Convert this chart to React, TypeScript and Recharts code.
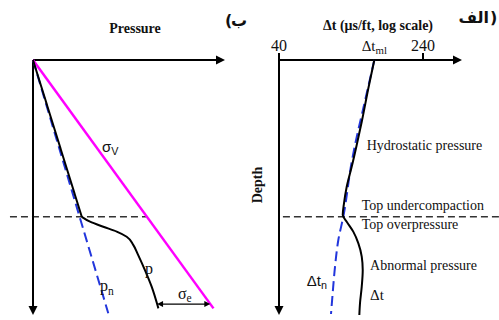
import { LineChart, Line, XAxis, YAxis, ReferenceLine, ReferenceDot } from "recharts";

type Pt = { depth: number; v: number };

const SERIF = "'Liberation Serif', 'Times New Roman', serif";
const SANS = "'Liberation Sans', Arial, sans-serif";
const ARABIC = "'DejaVu Sans', sans-serif";

// panel "ب": pressure vs depth (arbitrary linear units, 0-100)
const pressureDomain = [0, 100];
const depthDomain = [0, 100];
const sigmaV: Pt[] = [
  { depth: 0, v: 0 },
  { depth: 97.4, v: 94 },
];
const pNormal: Pt[] = [
  { depth: 0, v: 0 },
  { depth: 99.3, v: 39.2 },
];
const pHydro: Pt[] = [
  { depth: 0, v: 0 },
  { depth: 61.5, v: 25.4 },
];
const pOver: Pt[] = [
  { depth: 61.5, v: 25.4 },
  { depth: 63.4, v: 29.7 },
  { depth: 65.4, v: 36.6 },
  { depth: 67.3, v: 43.6 },
  { depth: 69.3, v: 48.8 },
  { depth: 72.5, v: 52.2 },
  { depth: 76.5, v: 54.8 },
  { depth: 82.4, v: 58.3 },
  { depth: 88.9, v: 61.8 },
  { depth: 97.4, v: 65.3 },
];
const topDepth = 61.5;
const sigmaEDepth = 95.7;

// panel "الف": transit time (µs/ft, log) vs depth
const dtDomain = [40, 390];
const dtTicks = [40, 240];
const dtMl = 131;
const dtObserved: Pt[] = [
  { depth: 0, v: 131 },
  { depth: 11.1, v: 121.6 },
  { depth: 24.2, v: 112 },
  { depth: 33.3, v: 105.2 },
  { depth: 41.8, v: 98.9 },
  { depth: 49.7, v: 92.9 },
  { depth: 56.2, v: 89.8 },
  { depth: 60.8, v: 88.4 },
  { depth: 63.4, v: 92.9 },
  { depth: 67.3, v: 100.8 },
  { depth: 71.9, v: 107.4 },
  { depth: 77.1, v: 112 },
  { depth: 82.4, v: 113.4 },
  { depth: 88.9, v: 112 },
  { depth: 95.4, v: 109.6 },
  { depth: 100, v: 108.7 },
];
const dtNormal: Pt[] = [
  { depth: 0, v: 131 },
  { depth: 18.9, v: 114.2 },
  { depth: 33.3, v: 103 },
  { depth: 39.9, v: 98.9 },
  { depth: 61.5, v: 89 },
  { depth: 70.6, v: 83.7 },
  { depth: 81.1, v: 80.3 },
  { depth: 91.5, v: 78 },
  { depth: 99.6, v: 76.4 },
];

function valueAt(series: Pt[], depth: number) {
  for (let i = 1; i < series.length; i++) {
    const a = series[i - 1];
    const b = series[i];
    if (depth <= b.depth) return a.v + ((b.v - a.v) * (depth - a.depth)) / (b.depth - a.depth);
  }
  return series[series.length - 1].v;
}

function Arrow(props: any) {
  const { x1, y1, x2, y2, width = 2, head = 9, half = 4.5, both = false } = props;
  const stroke = "#000";
  const a = Math.atan2(y2 - y1, x2 - x1);
  const c = Math.cos(a);
  const s = Math.sin(a);
  const tri = (x: number, y: number, dir: number) => {
    const bx = x - dir * head * c;
    const by = y - dir * head * s;
    return `${x},${y} ${bx - half * s},${by + half * c} ${bx + half * s},${by - half * c}`;
  };
  const inset = head * 0.6;
  return (
    <g>
      <line
        x1={both ? x1 + inset * c : x1}
        y1={both ? y1 + inset * s : y1}
        x2={x2 - inset * c}
        y2={y2 - inset * s}
        stroke={stroke}
        strokeWidth={width}
      />
      <polygon points={tri(x2, y2, 1)} fill={stroke} />
      {both && <polygon points={tri(x1, y1, -1)} fill={stroke} />}
    </g>
  );
}

function Tag(props: any) {
  const { viewBox, text, sub, size = 14, family = SERIF, anchor = "start" } = props;
  return (
    <text
      x={viewBox.x}
      y={viewBox.y}
      fontSize={size}
      fontFamily={family}
      textAnchor={anchor}
      dominantBaseline="central"
      fill="#111"
    >
      {text}
      {sub && (
        <tspan fontSize={size * 0.72} dy={size * 0.3}>
          {sub}
        </tspan>
      )}
    </text>
  );
}

function Note({ x, y, ...rest }: any) {
  return (
    <ReferenceDot x={x} y={y} r={0} fill="none" stroke="none" ifOverflow="visible" label={<Tag {...rest} />} />
  );
}

function PressurePanel() {
  const eLeft = valueAt(pOver, sigmaEDepth);
  const eRight = valueAt(sigmaV, sigmaEDepth);
  return (
    <LineChart width={250} height={320} layout="vertical" margin={{ top: 60, right: 25, bottom: 5, left: 33 }}>
      <XAxis type="number" domain={pressureDomain} hide />
      <YAxis type="number" dataKey="depth" domain={depthDomain} hide />
      <ReferenceLine
        ifOverflow="visible"
        segment={[{ x: -12, y: topDepth }, { x: valueAt(sigmaV, topDepth), y: topDepth }]}
        stroke="#333"
        strokeWidth={1.5}
        strokeDasharray="7 4"
      />
      <ReferenceLine
        ifOverflow="visible"
        segment={[{ x: 0, y: 0 }, { x: 100, y: 0 }]}
        stroke="#000"
        shape={(p: any) => <Arrow {...p} />}
      />
      <ReferenceLine
        ifOverflow="visible"
        segment={[{ x: 0, y: 0 }, { x: 0, y: 100 }]}
        stroke="#000"
        shape={(p: any) => <Arrow {...p} />}
      />
      <Line data={pNormal} dataKey="v" type="linear" stroke="#2236dc" strokeWidth={2} strokeDasharray="10 5" dot={false} activeDot={false} isAnimationActive={false} />
      <Line data={sigmaV} dataKey="v" type="linear" stroke="#ff00ff" strokeWidth={2.5} dot={false} activeDot={false} isAnimationActive={false} />
      <Line data={pHydro} dataKey="v" type="linear" stroke="#000" strokeWidth={2} dot={false} activeDot={false} isAnimationActive={false} />
      <Line data={pOver} dataKey="v" type="monotone" stroke="#000" strokeWidth={2} dot={false} activeDot={false} isAnimationActive={false} />
      <ReferenceLine
        ifOverflow="visible"
        segment={[{ x: eLeft, y: sigmaEDepth }, { x: eRight, y: sigmaEDepth }]}
        stroke="#000"
        shape={(p: any) => <Arrow {...p} width={1.2} head={6} half={3} both />}
      />
      <Note x={35.9} y={34.1} text="σ" sub="V" size={15} family={SANS} />
      <Note x={58.3} y={81.6} text="p" size={16} />
      <Note x={34.9} y={88.6} text="p" sub="n" size={16} />
      <Note x={75.5} y={91.4} text="σ" sub="e" size={16} />
    </LineChart>
  );
}

function SonicPanel() {
  return (
    <LineChart width={249} height={320} layout="vertical" margin={{ top: 30, right: 37, bottom: 5, left: 29 }}>
      <XAxis
        type="number"
        scale="log"
        domain={dtDomain}
        ticks={dtTicks}
        orientation="top"
        height={30}
        axisLine={false}
        stroke="#000"
        tickSize={7}
        tickMargin={2}
        tickLine={{ stroke: "#000", strokeWidth: 2 }}
        tick={{ fill: "#111", fontSize: 16, fontFamily: SERIF }}
      />
      <YAxis type="number" dataKey="depth" domain={depthDomain} hide />
      <ReferenceLine
        ifOverflow="visible"
        segment={[{ x: 42, y: topDepth }, { x: 620, y: topDepth }]}
        stroke="#333"
        strokeWidth={1.5}
        strokeDasharray="7 4"
      />
      <ReferenceLine
        ifOverflow="visible"
        segment={[{ x: 40, y: 0 }, { x: 390, y: 0 }]}
        stroke="#000"
        shape={(p: any) => <Arrow {...p} />}
      />
      <ReferenceLine
        ifOverflow="visible"
        segment={[{ x: 40, y: 0 }, { x: 40, y: 100 }]}
        stroke="#000"
        shape={(p: any) => <Arrow {...p} />}
      />
      <Line data={dtNormal} dataKey="v" type="monotone" stroke="#2236dc" strokeWidth={2} strokeDasharray="10 5" dot={false} activeDot={false} isAnimationActive={false} />
      <Line data={dtObserved} dataKey="v" type="monotone" stroke="#000" strokeWidth={2} dot={false} activeDot={false} isAnimationActive={false} />
      <Note x={dtMl} y={-5.5} text="Δt" sub="ml" size={15} anchor="middle" />
      <Note x={119.2} y={33.7} text="Hydrostatic pressure" />
      <Note x={112} y={56.9} text="Top undercompaction" />
      <Note x={112} y={64.7} text="Top overpressure" />
      <Note x={124.2} y={80.4} text="Abnormal pressure" />
      <Note x={124.2} y={92.2} text="Δt" size={15} />
      <Note x={56.5} y={86.3} text="Δt" sub="n" size={15} family={SANS} />
    </LineChart>
  );
}

export default function App() {
  return (
    <div style={{ position: "absolute", left: 0, top: 0, width: 499, height: 320, background: "#fff" }}>
      <div style={{ position: "absolute", left: 0, top: 0 }}>
        <PressurePanel />
      </div>
      <div style={{ position: "absolute", left: 250, top: 0 }}>
        <SonicPanel />
      </div>
      <svg width={499} height={320} style={{ position: "absolute", left: 0, top: 0, pointerEvents: "none" }}>
        <g fill="#111" fontFamily={SERIF} fontWeight="bold" dominantBaseline="central">
          <text x={135} y={28} fontSize={14} textAnchor="middle">Pressure</text>
          <text x={378} y={25} fontSize={14} textAnchor="middle">Δt (μs/ft, log scale)</text>
          <text x={257} y={185} fontSize={14} textAnchor="middle" transform="rotate(-90 257 185)">Depth</text>
        </g>
        {/* panel letters: paren and Arabic drawn apart so bidi cannot flip them */}
        <g fill="#111" fontFamily={ARABIC} fontWeight="bold" dominantBaseline="central" fontSize={16}>
          <text x={225} y={20} textAnchor="start">(</text>
          <text x={231} y={20} textAnchor="start">ب</text>
          <text x={489} y={17} textAnchor="end">الف</text>
          <text x={490} y={17} textAnchor="start">)</text>
        </g>
      </svg>
    </div>
  );
}
